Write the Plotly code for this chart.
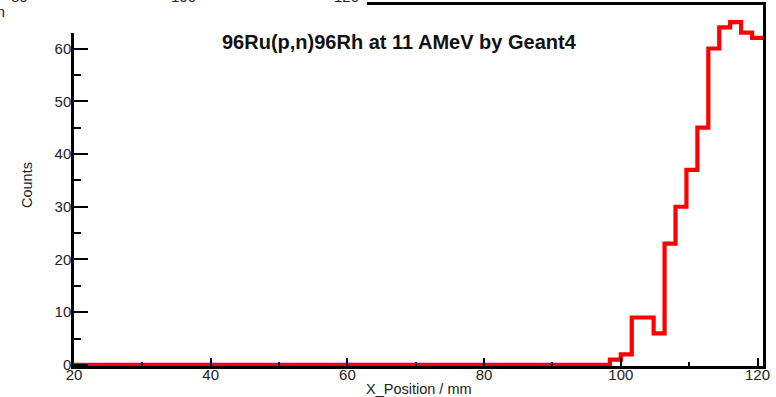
import numpy as np
import plotly.graph_objects as go

# Histogram binning (mm)
x_min = 20.0
bin_width = 1.6

# Counts per bin, 63 bins from 20.0 to 120.8 mm
counts = [
    0, 0, 0, 0, 0, 0, 0, 0, 0, 0,
    0, 0, 0, 0, 0, 0, 0, 0, 0, 0,
    0, 0, 0, 0, 0, 0, 0, 0, 0, 0,
    0, 0, 0, 0, 0, 0, 0, 0, 0, 0,
    0, 0, 0, 0, 0, 0, 0, 0, 0,
    1, 2, 9, 9, 6, 23, 30, 37, 45, 60, 64, 65, 63, 62,
]

x_ticks = [20, 40, 60, 80, 100, 120]
y_ticks = [0, 10, 20, 30, 40, 50, 60]

title_text = "96Ru(p,n)96Rh at 11 AMeV by Geant4"
x_title = "X_Position / mm"
y_title = "Counts"

# Labels of the neighbouring panel peeking in at the top edge
top_labels = ["80", "100", "120"]
top_label_px = [19, 183, 346]

n_bins = len(counts)
edges = x_min + bin_width * np.arange(n_bins + 1)
x_max = float(edges[-1])
y_max = max(counts) * 1.05

FIG_W, FIG_H = 776, 397
M_L, M_R, M_T, M_B = 74, 13, 5, 31
PW = FIG_W - M_L - M_R
PH = FIG_H - M_T - M_B


def px_x(p):
    return (p - M_L) / PW


def px_y(p):
    return (FIG_H - M_B - p) / PH


FONT = "Liberation Sans, Arial, sans-serif"

step_x = list(edges[:-1]) + [edges[-1]]
step_y = list(counts) + [counts[-1]]

fig = go.Figure()
fig.add_trace(go.Scatter(
    x=step_x, y=step_y, mode="lines",
    line=dict(shape="hv", color="#ff0000", width=4.2),
    hoverinfo="skip", showlegend=False,
))

axis_common = dict(
    showgrid=False, zeroline=False, showline=True, linecolor="black",
    linewidth=2.5, mirror=True, ticks="inside", tickcolor="black",
    tickfont=dict(family=FONT, size=15, color="#222"),
)

fig.update_xaxes(
    range=[x_min, x_max], tickvals=x_ticks, ticklen=8, tickwidth=2,
    ticklabelstandoff=-7,
    minor=dict(ticks="inside", dtick=10, tick0=20, ticklen=4,
               tickwidth=2, tickcolor="black"),
    **axis_common,
)
fig.update_yaxes(
    range=[-0.2, y_max], tickvals=y_ticks, ticklen=14, tickwidth=2,
    ticklabelstandoff=-3,
    minor=dict(ticks="inside", dtick=5, tick0=0, ticklen=7,
               tickwidth=2, tickcolor="black"),
    **axis_common,
)

shapes = [
    # white patch where the panel above overlaps this one
    dict(type="rect", xref="paper", yref="paper",
         x0=px_x(-5), x1=px_x(367), y0=px_y(33), y1=px_y(-5),
         fillcolor="white", line=dict(width=0), layer="above"),
]

annotations = [
    dict(text="<b>%s</b>" % title_text, xref="paper", yref="paper",
         x=px_x(399), y=px_y(42), xanchor="center", yanchor="middle",
         showarrow=False, font=dict(family=FONT, size=20, color="#111")),
    dict(text=x_title, xref="paper", yref="paper",
         x=0.5, y=px_y(389), xanchor="center", yanchor="middle",
         showarrow=False, font=dict(family=FONT, size=14.5, color="#222")),
    dict(text=y_title, xref="paper", yref="paper", textangle=-90,
         x=px_x(27), y=px_y(185), xanchor="center", yanchor="middle",
         showarrow=False, font=dict(family=FONT, size=14.5, color="#222")),
    dict(text="mm", xref="paper", yref="paper", borderpad=0,
         x=px_x(6), y=px_y(21), xanchor="right", yanchor="bottom",
         showarrow=False, font=dict(family=FONT, size=15, color="#222")),
]
for lab, p in zip(top_labels, top_label_px):
    annotations.append(dict(
        text=lab, xref="paper", yref="paper", borderpad=0,
        x=px_x(p), y=px_y(6.2), xanchor="center", yanchor="bottom",
        showarrow=False, font=dict(family=FONT, size=15, color="#222")))

fig.update_layout(
    width=FIG_W, height=FIG_H,
    margin=dict(l=M_L, r=M_R, t=M_T, b=M_B, autoexpand=False),
    paper_bgcolor="white", plot_bgcolor="white",
    shapes=shapes, annotations=annotations,
    showlegend=False,
)

fig.write_html("out.html", config={"displayModeBar": False})
